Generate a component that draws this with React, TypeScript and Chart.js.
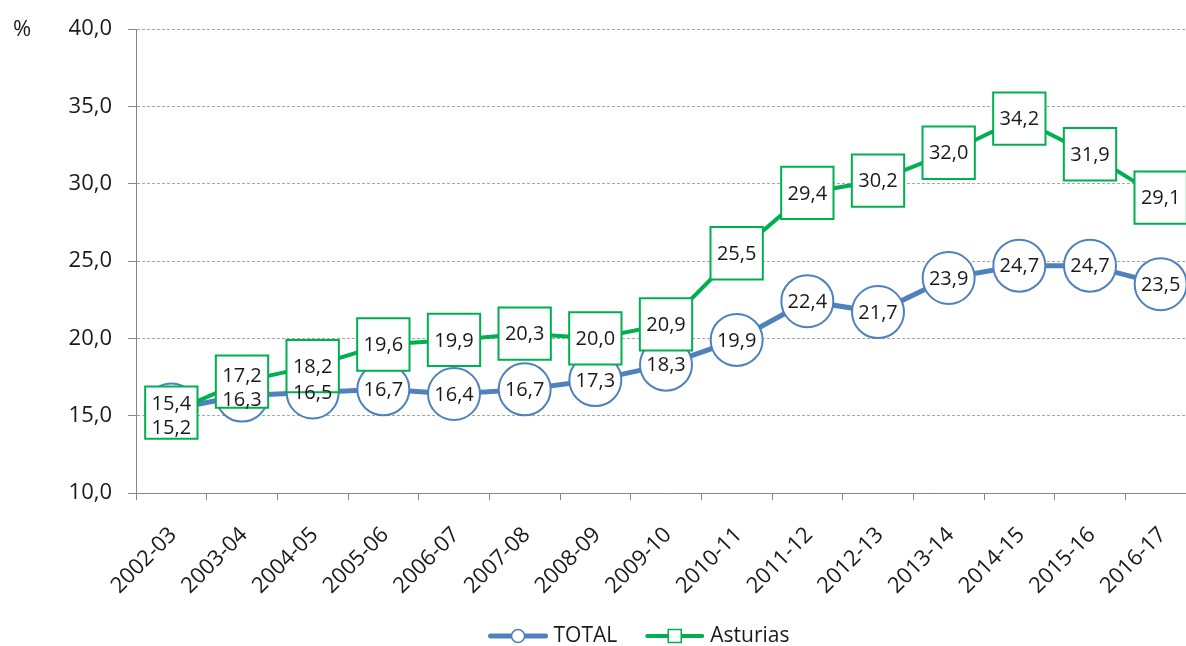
import React, { useEffect, useRef } from "react";
import { Chart, registerables } from "chart.js";

Chart.register(...registerables);

const categories = [
  "2002-03", "2003-04", "2004-05", "2005-06", "2006-07", "2007-08", "2008-09",
  "2009-10", "2010-11", "2011-12", "2012-13", "2013-14", "2014-15", "2015-16", "2016-17",
];
const totalValues = [15.4, 16.3, 16.5, 16.7, 16.4, 16.7, 17.3, 18.3, 19.9, 22.4, 21.7, 23.9, 24.7, 24.7, 23.5];
const asturiasValues = [15.2, 17.2, 18.2, 19.6, 19.9, 20.3, 20.0, 20.9, 25.5, 29.4, 30.2, 32.0, 34.2, 31.9, 29.1];
const seriesNames = ["TOTAL", "Asturias"];
const yMin = 10;
const yMax = 40;
const yStep = 5;
const unitLabel = "%";

const BLUE = "#4F81BD";
const GREEN = "#00B050";
const TEXT = "#1a1a1a";
const FONT = '"Open Sans", "Noto Sans", sans-serif';

const fmt = (v: number) => v.toFixed(1).replace(".", ",");

const extrasPlugin = {
  id: "extras",
  afterDatasetsDraw(chart: any) {
    const ctx = chart.ctx;
    const m0 = chart.getDatasetMeta(0);
    const m1 = chart.getDatasetMeta(1);
    ctx.save();
    ctx.font = `20px ${FONT}`;
    ctx.fillStyle = TEXT;
    ctx.textAlign = "center";
    ctx.textBaseline = "middle";
    for (let i = 0; i < categories.length; i++) {
      const p0 = m0.data[i];
      const p1 = m1.data[i];
      let y0 = p0.y;
      let y1 = p1.y;
      if (Math.abs(y0 - y1) < 22) {
        const up = Math.min(y0, y1) - 6;
        const down = Math.max(Math.max(y0, y1), up + 24);
        if (y0 <= y1) { y0 = up; y1 = down; } else { y1 = up; y0 = down; }
      }
      ctx.fillText(fmt(totalValues[i]), p0.x, y0 + 1);
      ctx.fillText(fmt(asturiasValues[i]), p1.x, y1 + 1);
    }
    ctx.restore();
  },
  afterDraw(chart: any) {
    const ctx = chart.ctx;
    const area = chart.chartArea;
    ctx.save();
    ctx.font = `22px ${FONT}`;
    ctx.fillStyle = TEXT;
    ctx.textAlign = "center";
    ctx.textBaseline = "middle";
    ctx.fillText(unitLabel, 22, area.top + 1);

    const ly = 636;
    ctx.font = `21px ${FONT}`;
    ctx.textAlign = "left";
    const items = [
      { name: seriesNames[0], color: BLUE, shape: "circle", lw: 5 },
      { name: seriesNames[1], color: GREEN, shape: "rect", lw: 4 },
    ];
    const lineLen = 55;
    const gapText = 8;
    const gapItems = 30;
    const widths = items.map((it) => lineLen + gapText + ctx.measureText(it.name).width);
    const total = widths.reduce((a, b) => a + b, 0) + gapItems;
    let x = 640 - total / 2;
    items.forEach((it, k) => {
      ctx.strokeStyle = it.color;
      ctx.lineWidth = it.lw;
      ctx.lineCap = "round";
      ctx.beginPath();
      ctx.moveTo(x, ly);
      ctx.lineTo(x + lineLen, ly);
      ctx.stroke();
      const cx = x + lineLen / 2;
      ctx.fillStyle = "#ffffff";
      ctx.lineWidth = 1.5;
      ctx.beginPath();
      if (it.shape === "circle") {
        ctx.arc(cx, ly, 6.5, 0, Math.PI * 2);
      } else {
        ctx.rect(cx - 6.5, ly - 6.5, 13, 13);
      }
      ctx.fill();
      ctx.stroke();
      ctx.fillStyle = TEXT;
      ctx.textBaseline = "middle";
      ctx.fillText(it.name, x + lineLen + gapText, ly);
      x += widths[k] + gapItems;
    });
    ctx.restore();
  },
};

const zeroPad = (scale: any) => {
  scale.paddingTop = 0;
  scale.paddingBottom = 0;
  scale.paddingLeft = 0;
  scale.paddingRight = 0;
};

export default function App() {
  const canvasRef = useRef<HTMLCanvasElement | null>(null);

  useEffect(() => {
    document.body.style.margin = "0";
    const canvas = canvasRef.current;
    if (!canvas) return;
    const chart = new Chart(canvas, {
      type: "line",
      data: {
        labels: categories,
        datasets: [
          {
            label: seriesNames[0],
            data: totalValues,
            borderColor: BLUE,
            backgroundColor: "#ffffff",
            borderWidth: 5,
            pointStyle: "circle",
            pointRadius: 26,
            pointBorderWidth: 2,
            pointBorderColor: BLUE,
            pointBackgroundColor: "#ffffff",
            order: 2,
            clip: false as any,
          },
          {
            label: seriesNames[1],
            data: asturiasValues,
            borderColor: GREEN,
            backgroundColor: "#ffffff",
            borderWidth: 4,
            pointStyle: "rect",
            pointRadius: 37,
            pointBorderWidth: 2,
            pointBorderColor: GREEN,
            pointBackgroundColor: "#ffffff",
            order: 1,
            clip: false as any,
          },
        ],
      },
      options: {
        animation: false,
        responsive: false,
        maintainAspectRatio: false,
        layout: { autoPadding: false, padding: { top: 29, right: 4, left: 0, bottom: 0 } },
        plugins: {
          legend: { display: false },
          tooltip: { enabled: false },
        },
        scales: {
          x: {
            offset: true,
            grid: {
              display: true,
              drawOnChartArea: false,
              drawTicks: true,
              tickLength: 7,
              offset: true,
              color: "#868686",
            },
            border: { display: true, color: "#868686", width: 1 },
            ticks: {
              autoSkip: false,
              minRotation: 45,
              maxRotation: 45,
              padding: 22,
              labelOffset: 2,
              color: TEXT,
              font: { family: FONT, size: 22 },
            },
            afterFit: (scale: any) => {
              scale.height = 153;
              zeroPad(scale);
            },
          },
          y: {
            min: yMin,
            max: yMax,
            grid: {
              color: "#a6a6a6",
              lineWidth: 1,
              drawTicks: true,
              tickLength: 8,
              tickColor: "#868686",
              tickBorderDash: [],
            },
            border: { display: true, color: "#868686", width: 1, dash: [3, 2] },
            ticks: {
              stepSize: yStep,
              padding: 16,
              color: TEXT,
              font: { family: FONT, size: 22 },
              callback: (v: any) => fmt(Number(v)),
            },
            afterFit: (scale: any) => {
              scale.width = 136;
              zeroPad(scale);
            },
          },
        },
      } as any,
      plugins: [extrasPlugin],
    });
    return () => chart.destroy();
  }, []);

  return (
    <div style={{ position: "relative", width: 1186, height: 646, overflow: "hidden" }}>
      <canvas
        ref={canvasRef}
        width={1200}
        height={646}
        style={{ position: "absolute", left: 0, top: 0, width: 1200, height: 646 }}
      />
    </div>
  );
}
